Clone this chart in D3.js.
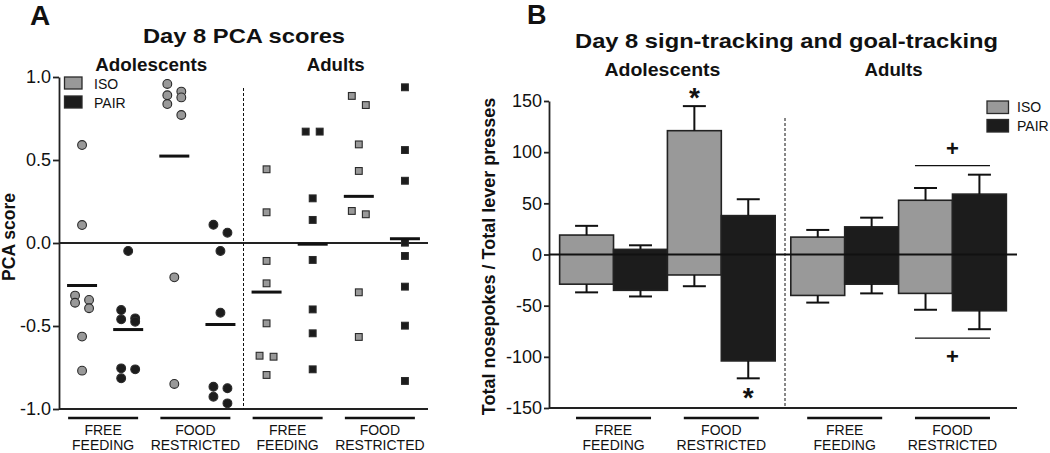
<!DOCTYPE html>
<html><head><meta charset="utf-8">
<script src="https://cdn.jsdelivr.net/npm/d3@7"></script>
<style>
body{margin:0;background:#fff;}
svg{display:block;font-family:Arial,"Liberation Sans",Helvetica,sans-serif;}
</style>
</head><body>
<svg id="c" width="1050" height="453"></svg>
<script>
// ---------- shared categories ----------
const ageGroups = ["Adolescents", "Adults"];
const feedConds = ["FREE FEEDING", "FOOD RESTRICTED"];
const feedLabelLines = [["FREE", "FEEDING"], ["FOOD", "RESTRICTED"]];
const housing = ["ISO", "PAIR"];

// ---------- Panel A: Day 8 PCA scores (individual animals) ----------
const pcaTicks = [-1.0, -0.5, 0.0, 0.5, 1.0];
const pcaAdolFreeIso  = [0.59, 0.108, -0.317, -0.343, -0.36, -0.393, -0.564, -0.769];
const pcaAdolFreePair = [-0.048, -0.404, -0.454, -0.46, -0.474, -0.755, -0.761, -0.815];
const pcaAdolFoodIso  = [0.958, 0.912, 0.89, 0.877, 0.837, 0.771, -0.207, -0.849];
const pcaAdolFoodPair = [0.11, 0.062, -0.048, -0.42, -0.866, -0.875, -0.926, -0.966];
const pcaAdultFreeIso  = [0.444, 0.185, -0.108, -0.243, -0.484, -0.679, -0.685, -0.795];
const pcaAdultFreePair = [0.671, 0.671, 0.269, 0.139, -0.102, -0.4, -0.544, -0.761];
const pcaAdultFoodIso  = [0.886, 0.831, 0.594, 0.434, 0.193, 0.173, -0.297, -0.566];
const pcaAdultFoodPair = [0.938, 0.56, 0.375, 0.002, -0.078, -0.263, -0.498, -0.831];

// ---------- Panel B: nosepokes (positive) / lever presses (negative) ----------
const stTicks = [-150, -100, -50, 0, 50, 100, 150];
const nosepokeMean = [19, 5, 121, 38, 17, 27, 53, 59];
const nosepokeSem  = [9, 4, 24, 16, 7, 9, 12, 19];
const leverMean    = [-29, -35, -20, -104, -40, -29, -38, -55];
const leverSem     = [8, 6, 11, 17, 7, 9, 16, 18];
const starAbove = [2];   // bar index with * above
const starBelow = [3];   // bar index with * below
const plusGroup = [3];   // group index (age*2+feed) with + above and below

// ---------- colours ----------
const colISO = "#999999", colPAIR = "#1c1c1c", ink = "#111", axisCol = "#222";
const fillOf = h => h === "ISO" ? colISO : colPAIR;

const svg = d3.select("#c");

// build cells
const pcaAll = [pcaAdolFreeIso, pcaAdolFreePair, pcaAdolFoodIso, pcaAdolFoodPair,
                pcaAdultFreeIso, pcaAdultFreePair, pcaAdultFoodIso, pcaAdultFoodPair];
const cells = [];
ageGroups.forEach((age, ai) => feedConds.forEach((f, fi) => housing.forEach((h, hi) => {
  const idx = ai * 4 + fi * 2 + hi;
  cells.push({idx, age, feed: f, fi, house: h, values: pcaAll[idx],
    pos: nosepokeMean[idx], posSem: nosepokeSem[idx], neg: leverMean[idx], negSem: leverSem[idx]});
})));

// ================= PANEL A =================
const xA = d3.scaleBand().domain(cells.map(d => d.idx)).range([59, 428]);
const yA = d3.scaleLinear().domain([-1, 1]).range([409, 77]);
const gA = svg.append("g");

gA.append("text").attr("x", 30).attr("y", 25).attr("font-size", 28).attr("font-weight", "bold").attr("fill", ink).text("A");
gA.append("text").attr("x", 244).attr("y", 43).attr("text-anchor", "middle").attr("font-size", 21)
  .attr("font-weight", "bold").attr("fill", ink).attr("textLength", 202).attr("lengthAdjust", "spacingAndGlyphs").text("Day 8 PCA scores");

const ageCenterA = a => { const c = cells.filter(d => d.age === a); return (xA(c[0].idx) + xA(c[c.length-1].idx) + xA.bandwidth()) / 2; };
ageGroups.forEach((a, i) => {
  gA.append("text").attr("x", ageCenterA(a)).attr("y", 71).attr("text-anchor", "middle").attr("font-size", 17.5)
    .attr("font-weight", "bold").attr("fill", ink).attr("textLength", i === 0 ? 112 : 58).attr("lengthAdjust", "spacingAndGlyphs").text(a);
});

// y axis
const axA = gA.append("g").attr("transform", "translate(59,0)")
  .call(d3.axisLeft(yA).tickValues(pcaTicks).tickFormat(d => d.toFixed(1)).tickSize(6).tickSizeOuter(0).tickPadding(2));
axA.selectAll("path,line").attr("stroke", axisCol).attr("stroke-width", 1.8);
axA.selectAll("text").attr("font-size", 18).attr("fill", ink).attr("font-family", "Arial,'Liberation Sans',sans-serif");

gA.append("text").attr("transform", `translate(15,${yA(0) - 6}) rotate(-90)`).attr("text-anchor", "middle")
  .attr("font-size", 17.5).attr("font-weight", "bold").attr("fill", ink).text("PCA score");

// zero line & bottom axis
gA.append("line").attr("x1", 59).attr("x2", 428).attr("y1", yA(0)).attr("y2", yA(0)).attr("stroke", axisCol).attr("stroke-width", 1.8);
gA.append("line").attr("x1", 59).attr("x2", 428).attr("y1", yA(-1)).attr("y2", yA(-1)).attr("stroke", axisCol).attr("stroke-width", 1.8);
// divider between ages
const divA = xA(4);
gA.append("line").attr("x1", divA).attr("x2", divA).attr("y1", 88).attr("y2", yA(-1)).attr("stroke", ink)
  .attr("stroke-width", 1).attr("stroke-dasharray", "3,2");

// dodge: cluster close values, alternate left/right
function dodge(values, thr) {
  const sorted = values.map((v, i) => ({v, y: yA(v)})).sort((a, b) => a.y - b.y);
  const out = [];
  let cl = [];
  const flush = () => {
    if (cl.length === 1) out.push({v: cl[0].v, dx: 0});
    else cl.forEach((p, k) => out.push({v: p.v, dx: (k % 2 === 0 ? -7 : 7)}));
    cl = [];
  };
  sorted.forEach(p => {
    if (cl.length && p.y - cl[cl.length - 1].y > thr) flush();
    cl.push(p);
  });
  if (cl.length) flush();
  return out;
}

cells.forEach(c => {
  const cx = xA(c.idx) + xA.bandwidth() / 2;
  const pts = dodge(c.values, 11);
  const g = gA.append("g");
  if (c.age === "Adolescents") {
    g.selectAll("circle").data(pts).join("circle")
      .attr("cx", d => cx + d.dx).attr("cy", d => yA(d.v)).attr("r", 4.4)
      .attr("fill", fillOf(c.house)).attr("stroke", "#2a2a2a").attr("stroke-width", 1.1);
  } else {
    g.selectAll("rect").data(pts).join("rect")
      .attr("x", d => cx + d.dx - 3.4).attr("y", d => yA(d.v) - 3.4).attr("width", 6.8).attr("height", 6.8)
      .attr("fill", fillOf(c.house)).attr("stroke", "#2a2a2a").attr("stroke-width", 1.1);
  }
  const m = d3.mean(c.values);
  gA.append("line").attr("x1", cx - 15).attr("x2", cx + 15).attr("y1", yA(m)).attr("y2", yA(m))
    .attr("stroke", ink).attr("stroke-width", 3);
});

// group underlines & labels
ageGroups.forEach(a => feedConds.forEach((f, fi) => {
  const c = cells.filter(d => d.age === a && d.fi === fi);
  const cx = (xA(c[0].idx) + xA(c[1].idx) + xA.bandwidth()) / 2 - 2;
  gA.append("line").attr("x1", cx - 35).attr("x2", cx + 35).attr("y1", 418).attr("y2", 418).attr("stroke", ink).attr("stroke-width", 2.5);
  feedLabelLines[fi].forEach((t, li) => gA.append("text").attr("x", cx).attr("y", 434.5 + li * 15.5).attr("text-anchor", "middle")
    .attr("font-size", 14).attr("fill", ink).text(t));
}));

// legend A
housing.forEach((h, i) => {
  gA.append("rect").attr("x", 64.5).attr("y", 77 + i * 19).attr("width", 17.5).attr("height", 12)
    .attr("fill", fillOf(h)).attr("stroke", "#2a2a2a").attr("stroke-width", 1.3);
  gA.append("text").attr("x", 94).attr("y", 88.5 + i * 19).attr("font-size", 14).attr("fill", ink).text(h);
});

// ================= PANEL B =================
const yB = d3.scaleLinear().domain([-150, 150]).range([408, 101]);
const xOuter = d3.scaleBand().domain(ageGroups).range([549, 1017]).paddingInner(0.0675).paddingOuter(0.046);
const xInner = d3.scaleBand().domain(d3.range(4)).range([0, xOuter.bandwidth()]);
const barX = c => xOuter(c.age) + xInner(c.idx % 4);
const bw = xInner.bandwidth();
const gB = svg.append("g");

gB.append("text").attr("x", 527).attr("y", 24).attr("font-size", 27).attr("font-weight", "bold").attr("fill", ink).text("B");
gB.append("text").attr("x", 786.5).attr("y", 48).attr("text-anchor", "middle").attr("font-size", 21)
  .attr("font-weight", "bold").attr("fill", ink).attr("textLength", 423).attr("lengthAdjust", "spacingAndGlyphs")
  .text("Day 8 sign-tracking and goal-tracking");
ageGroups.forEach((a, i) => {
  gB.append("text").attr("x", xOuter(a) + xOuter.bandwidth() / 2 - 5).attr("y", 75.5).attr("text-anchor", "middle")
    .attr("font-size", 17.5).attr("font-weight", "bold").attr("fill", ink)
    .attr("textLength", i === 0 ? 116 : 58).attr("lengthAdjust", "spacingAndGlyphs").text(a);
});

const axB = gB.append("g").attr("transform", "translate(549,0)")
  .call(d3.axisLeft(yB).tickValues(stTicks).tickFormat(d => String(d)).tickSize(5).tickSizeOuter(0).tickPadding(2));
axB.selectAll("path,line").attr("stroke", axisCol).attr("stroke-width", 1.8);
axB.selectAll("text").attr("font-size", 18).attr("fill", ink).attr("font-family", "Arial,'Liberation Sans',sans-serif");

gB.append("text").attr("transform", `translate(495,${(yB(150) + yB(-150)) / 2 + 2}) rotate(-90)`).attr("text-anchor", "middle")
  .attr("font-size", 18).attr("font-weight", "bold").attr("fill", ink).text("Total nosepokes / Total lever presses");

// divider
const divB = (xOuter("Adolescents") + xOuter.bandwidth() + xOuter("Adults")) / 2 + 2;
gB.append("line").attr("x1", divB).attr("x2", divB).attr("y1", 118).attr("y2", yB(-150)).attr("stroke", ink)
  .attr("stroke-width", 1).attr("stroke-dasharray", "3,2");

// bars
gB.selectAll("rect.bar").data(cells).join("rect").attr("class", "bar")
  .attr("x", d => barX(d)).attr("y", d => yB(d.pos)).attr("width", bw).attr("height", d => yB(d.neg) - yB(d.pos))
  .attr("fill", d => fillOf(d.house)).attr("stroke", "#222").attr("stroke-width", 1.6);

// error bars
cells.forEach(c => {
  const cx = barX(c) + bw / 2;
  [[c.pos, c.pos + c.posSem], [c.neg, c.neg - c.negSem]].forEach(([a, b]) => {
    gB.append("line").attr("x1", cx).attr("x2", cx).attr("y1", yB(a)).attr("y2", yB(b)).attr("stroke", ink).attr("stroke-width", 2);
    gB.append("line").attr("x1", cx - 11.5).attr("x2", cx + 11.5).attr("y1", yB(b)).attr("y2", yB(b)).attr("stroke", ink).attr("stroke-width", 2);
  });
});

// zero line and bottom axis
gB.append("line").attr("x1", 549).attr("x2", 1017).attr("y1", yB(0)).attr("y2", yB(0)).attr("stroke", ink).attr("stroke-width", 1.8);
gB.append("line").attr("x1", 549).attr("x2", 1017).attr("y1", yB(-150)).attr("y2", yB(-150)).attr("stroke", axisCol).attr("stroke-width", 1.8);

// group underlines & labels
ageGroups.forEach(a => feedConds.forEach((f, fi) => {
  const c = cells.filter(d => d.age === a && d.fi === fi);
  const cx = (barX(c[0]) + barX(c[1]) + bw) / 2;
  gB.append("line").attr("x1", cx - 37.5).attr("x2", cx + 37.5).attr("y1", 418).attr("y2", 418).attr("stroke", ink).attr("stroke-width", 2.5);
  feedLabelLines[fi].forEach((t, li) => gB.append("text").attr("x", cx).attr("y", 434.5 + li * 15.5).attr("text-anchor", "middle")
    .attr("font-size", 14).attr("fill", ink).text(t));
}));

// significance marks
starAbove.forEach(i => {
  const c = cells[i];
  gB.append("text").attr("x", barX(c) + bw / 2).attr("y", yB(c.pos + c.posSem) + 1).attr("text-anchor", "middle")
    .attr("font-size", 28).attr("font-weight", "bold").attr("fill", ink).text("*");
});
starBelow.forEach(i => {
  const c = cells[i];
  gB.append("text").attr("x", barX(c) + bw / 2).attr("y", yB(c.neg - c.negSem) + 29).attr("text-anchor", "middle")
    .attr("font-size", 28).attr("font-weight", "bold").attr("fill", ink).text("*");
});
plusGroup.forEach(gi => {
  const c = cells.filter(d => d.age === ageGroups[Math.floor(gi / 2)] && d.fi === gi % 2);
  const cx = (barX(c[0]) + barX(c[1]) + bw) / 2;
  const top = d3.max(c, d => d.pos + d.posSem), bot = d3.min(c, d => d.neg - d.negSem);
  const yt = yB(top) - 9, yb = yB(bot) + 9;
  gB.append("line").attr("x1", cx - 37.5).attr("x2", cx + 37.5).attr("y1", yt).attr("y2", yt).attr("stroke", ink).attr("stroke-width", 1.3);
  gB.append("line").attr("x1", cx - 37.5).attr("x2", cx + 37.5).attr("y1", yb).attr("y2", yb).attr("stroke", ink).attr("stroke-width", 1.3);
  gB.append("text").attr("x", cx).attr("y", yt - 10).attr("text-anchor", "middle").attr("font-size", 22).attr("font-weight", "bold").attr("fill", ink).text("+");
  gB.append("text").attr("x", cx).attr("y", yb + 26).attr("text-anchor", "middle").attr("font-size", 22).attr("font-weight", "bold").attr("fill", ink).text("+");
});

// legend B
housing.forEach((h, i) => {
  gB.append("rect").attr("x", 987).attr("y", 101 + i * 18.5).attr("width", 21.5).attr("height", 12.5)
    .attr("fill", fillOf(h)).attr("stroke", "#2a2a2a").attr("stroke-width", 1.3);
  gB.append("text").attr("x", 1017).attr("y", 112 + i * 18.5).attr("font-size", 14).attr("fill", ink).text(h);
});
</script>
</body></html>
